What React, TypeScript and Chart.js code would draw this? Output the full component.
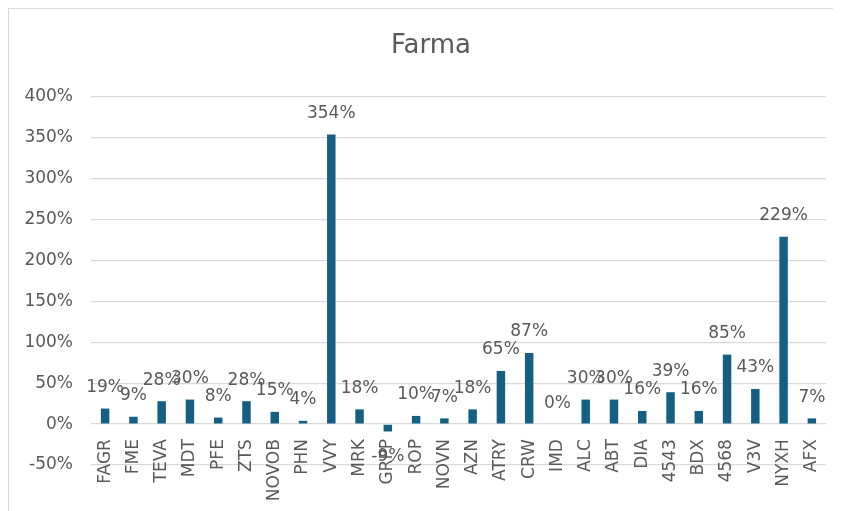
import React, { useEffect, useRef } from "react";
import { Chart, registerables } from "chart.js";

Chart.register(...registerables);

const categories = ["FAGR","FME","TEVA","MDT","PFE","ZTS","NOVOB","PHN","VVY","MRK","GRPP","ROP","NOVN","AZN","ATRY","CRW","IMD","ALC","ABT","DIA","4543","BDX","4568","V3V","NYXH","AFX"];
const values = [19,9,28,30,8,28,15,4,354,18,-9,10,7,18,65,87,0,30,30,16,39,16,85,43,229,7];
const titleText = "Farma";
const yMin = -50;
const yMax = 400;
const yStep = 50;

const FONT = "'DejaVu Sans', sans-serif";
const TEXT = "#595959";
const BAR = "#156082";
const GRID = "#d9d9d9";

const labelsPlugin = {
  id: "customLabels",
  afterDatasetsDraw(chart: any) {
    const ctx = chart.ctx;
    const meta = chart.getDatasetMeta(0);
    const xs = chart.scales.x;
    const ys = chart.scales.y;
    const zeroY = ys.getPixelForValue(0);
    ctx.save();
    ctx.fillStyle = TEXT;
    ctx.font = `26px ${FONT}`;
    ctx.textAlign = "center";
    ctx.textBaseline = "middle";
    ctx.fillText(titleText, chart.width / 2, 37);
    ctx.font = `17px ${FONT}`;
    meta.data.forEach((bar: any, i: number) => {
      const v = values[i];
      ctx.textAlign = "center";
      ctx.textBaseline = "middle";
      const y = v >= 0 ? bar.y - 21 : bar.y + 25;
      ctx.fillText(`${v}%`, bar.x, y);
    });
    categories.forEach((c, i) => {
      const x = xs.getPixelForValue(i);
      ctx.save();
      ctx.translate(x, zeroY + 15);
      ctx.rotate(-Math.PI / 2);
      ctx.textAlign = "right";
      ctx.textBaseline = "middle";
      ctx.fillText(c, 0, 0);
      ctx.restore();
    });
    ctx.restore();
  },
};

export default function App() {
  const ref = useRef<HTMLCanvasElement>(null);
  useEffect(() => {
    if (!ref.current) return;
    const chart = new Chart(ref.current, {
      type: "bar",
      data: {
        labels: categories,
        datasets: [
          {
            data: values,
            backgroundColor: BAR,
            categoryPercentage: 1,
            barPercentage: 0.3,
          },
        ],
      },
      options: {
        animation: false,
        responsive: true,
        maintainAspectRatio: false,
        layout: { padding: { left: 15, right: 27, top: 88, bottom: 46 } },
        plugins: {
          legend: { display: false },
          tooltip: { enabled: false },
          title: { display: false },
        },
        scales: {
          x: {
            display: false,
          },
          y: {
            min: yMin,
            max: yMax,
            afterFit: (scale: any) => {
              scale.width = 67;
            },
            ticks: {
              stepSize: yStep,
              color: TEXT,
              padding: 18,
              font: { family: FONT, size: 17 },
              callback: (v: any) => `${v}%`,
            },
            grid: { color: GRID, lineWidth: 1.3, drawTicks: false },
            border: { display: false },
          },
        },
      },
      plugins: [labelsPlugin],
    });
    return () => chart.destroy();
  }, []);
  return (
    <div
      style={{
        width: 833,
        height: 503,
        overflow: "hidden",
        boxSizing: "border-box",
        borderTop: `1.5px solid ${GRID}`,
        borderLeft: `1.5px solid ${GRID}`,
        background: "#fff",
      }}
    >
      <div style={{ position: "relative", width: 844, height: 502 }}>
        <canvas ref={ref} />
      </div>
    </div>
  );
}
